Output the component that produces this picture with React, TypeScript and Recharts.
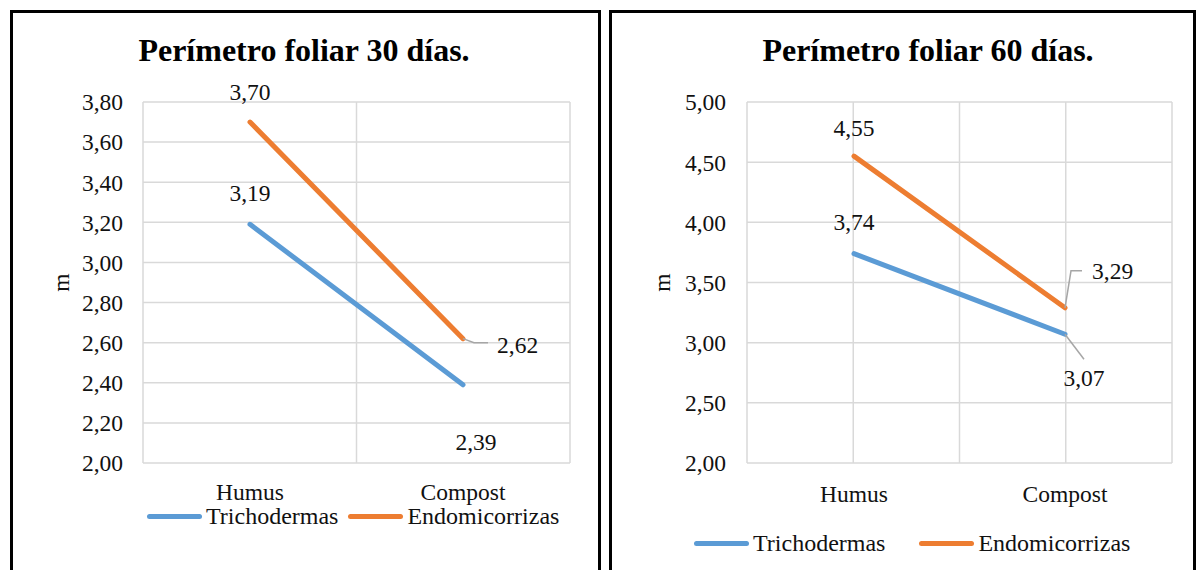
import React from 'react';
import {
  LineChart,
  Line,
  XAxis,
  YAxis,
  CartesianGrid,
  Legend,
  LabelList,
  Label,
} from 'recharts';

const categories = ['Humus', 'Compost'];
const seriesNames = ['Trichodermas', 'Endomicorrizas'];

const tricho30 = [3.19, 2.39];
const endo30 = [3.7, 2.62];
const ticks30 = [2.0, 2.2, 2.4, 2.6, 2.8, 3.0, 3.2, 3.4, 3.6, 3.8];

const tricho60 = [3.74, 3.07];
const endo60 = [4.55, 3.29];
const ticks60 = [2.0, 2.5, 3.0, 3.5, 4.0, 4.5, 5.0];

const BLUE = '#5B9BD5';
const ORANGE = '#ED7D31';
const GRID = '#d9d9d9';
const LEADER = '#a6a6a6';
const FONT = '"Liberation Serif", "Times New Roman", serif';
const TEXT = '#111';

const fmt = (v: number) => v.toFixed(2).replace('.', ',');

type Place = {
  dx: number;
  dy: number;
  anchor: 'middle' | 'start';
  leader?: [number, number][];
};

// label placement relative to each point
const place30: Record<string, Place[]> = {
  tricho: [
    { dx: 0, dy: -31, anchor: 'middle' },
    { dx: 13, dy: 57, anchor: 'middle' },
  ],
  endo: [
    { dx: 0, dy: -30, anchor: 'middle' },
    { dx: 34, dy: 6, anchor: 'start', leader: [[0, 0], [11, 4], [25, 4]] },
  ],
};

const place60: Record<string, Place[]> = {
  tricho: [
    { dx: 0, dy: -32, anchor: 'middle' },
    { dx: 19, dy: 44, anchor: 'middle', leader: [[0, 0], [19, 25]] },
  ],
  endo: [
    { dx: 0, dy: -28, anchor: 'middle' },
    { dx: 27, dy: -37, anchor: 'start', leader: [[0, 0], [6, -37], [17, -37]] },
  ],
};

const makeLabel = (places: Place[]) => (props: any) => {
  const { x, y, value, index } = props;
  const p = places[index];
  if (!p || x == null || y == null) return null;
  return (
    <g>
      {p.leader && (
        <polyline
          points={p.leader.map(([a, b]) => `${x + a},${y + b}`).join(' ')}
          fill="none"
          stroke={LEADER}
          strokeWidth={1.5}
        />
      )}
      <text
        x={x + p.dx}
        y={y + p.dy}
        textAnchor={p.anchor}
        dominantBaseline="central"
        fontSize={23.5}
        fill={TEXT}
        style={{ fontFamily: FONT }}
      >
        {fmt(Number(value))}
      </text>
    </g>
  );
};

const renderLegend = (gap: number) => (props: any) => {
  const items = [...(props.payload || [])].sort(
    (a: any, b: any) => seriesNames.indexOf(a.value) - seriesNames.indexOf(b.value)
  );
  return (
    <div style={{ display: 'flex', alignItems: 'center', height: 20 }}>
      {items.map((e: any, i: number) => (
        <div
          key={e.value}
          style={{ display: 'flex', alignItems: 'center', marginLeft: i ? gap : 0 }}
        >
          <span
            style={{
              display: 'inline-block',
              width: 55,
              height: 5,
              borderRadius: 3,
              background: e.color,
            }}
          />
          <span
            style={{
              marginLeft: 4,
              fontSize: 24,
              lineHeight: '20px',
              color: TEXT,
              fontFamily: FONT,
            }}
          >
            {e.value}
          </span>
        </div>
      ))}
    </div>
  );
};

const yTitle = (dx: number) => (props: any) => {
  const vb = props.viewBox || {};
  const cx = (vb.x || 0) + dx;
  const cy = (vb.y || 0) + (vb.height || 0) / 2;
  return (
    <text
      x={cx}
      y={cy}
      transform={`rotate(-90, ${cx}, ${cy})`}
      textAnchor="middle"
      dominantBaseline="central"
      fontSize={23.5}
      fill={TEXT}
      style={{ fontFamily: FONT }}
    >
      m
    </text>
  );
};

type PanelProps = {
  title: string;
  left: number;
  width: number;
  titleX: number;
  tricho: number[];
  endo: number[];
  ticks: number[];
  yWidth: number;
  tickMargin: number;
  xTickMargin: number;
  rightMargin: number;
  pad: number;
  quarterGrid: boolean;
  places: Record<string, Place[]>;
  legendLeft: number;
  legendTop: number;
  legendGap: number;
  mX: number;
};

const Panel: React.FC<PanelProps> = (p) => {
  const data = categories.map((c, i) => ({ name: c, tricho: p.tricho[i], endo: p.endo[i] }));
  const chartW = p.width - 6;
  const chartH = 560;
  return (
    <div
      style={{
        position: 'absolute',
        left: p.left,
        top: 10,
        width: p.width,
        height: 580,
        border: '3px solid #000',
        boxSizing: 'border-box',
        background: '#fff',
      }}
    >
      <div
        style={{
          position: 'absolute',
          left: p.titleX,
          top: 18,
          transform: 'translateX(-50%)',
          whiteSpace: 'nowrap',
          fontFamily: FONT,
          fontWeight: 'bold',
          fontSize: 32,
          lineHeight: '38px',
          color: '#000',
        }}
      >
        {p.title}
      </div>
      <div style={{ position: 'absolute', left: 0, top: 0, fontFamily: FONT }}>
        <LineChart
          width={chartW}
          height={chartH}
          data={data}
          margin={{ top: 89, right: p.rightMargin, left: 0, bottom: 80 }}
          style={{ fontFamily: FONT }}
        >
          <CartesianGrid
            stroke={GRID}
            strokeWidth={1.5}
            verticalCoordinatesGenerator={({ offset }: any) => {
              const l = offset.left;
              const w = offset.width;
              return p.quarterGrid
                ? [l, l + w / 4, l + w / 2, l + (3 * w) / 4, l + w]
                : [l, l + w / 2, l + w];
            }}
          />
          <XAxis
            dataKey="name"
            height={30}
            axisLine={false}
            tickLine={false}
            tickMargin={p.xTickMargin}
            interval={0}
            padding={{ left: p.pad, right: p.pad }}
            tick={{ fontSize: 23.5, fill: TEXT, fontFamily: FONT }}
          />
          <YAxis
            width={p.yWidth}
            domain={[p.ticks[0], p.ticks[p.ticks.length - 1]]}
            ticks={p.ticks}
            axisLine={false}
            tickLine={false}
            tickMargin={p.tickMargin}
            tickFormatter={fmt}
            tick={{ fontSize: 23.5, fill: TEXT, fontFamily: FONT }}
          >
            <Label content={yTitle(p.mX)} />
          </YAxis>
          <Legend
            layout="horizontal"
            verticalAlign="middle"
            align="center"
            content={renderLegend(p.legendGap)}
            wrapperStyle={{ left: p.legendLeft, top: p.legendTop, width: 'auto' }}
          />
          <Line
            dataKey="tricho"
            name={seriesNames[0]}
            stroke={BLUE}
            strokeWidth={5}
            strokeLinecap="round"
            dot={false}
            activeDot={false}
            isAnimationActive={false}
          >
            <LabelList dataKey="tricho" content={makeLabel(p.places.tricho)} />
          </Line>
          <Line
            dataKey="endo"
            name={seriesNames[1]}
            stroke={ORANGE}
            strokeWidth={5}
            strokeLinecap="round"
            dot={false}
            activeDot={false}
            isAnimationActive={false}
          >
            <LabelList dataKey="endo" content={makeLabel(p.places.endo)} />
          </Line>
        </LineChart>
      </div>
    </div>
  );
};

export default function App() {
  return (
    <div
      style={{
        position: 'absolute',
        left: 0,
        top: 0,
        width: 1200,
        height: 570,
        overflow: 'hidden',
        background: '#fff',
        fontFamily: FONT,
      }}
    >
      <Panel
        title="Perímetro foliar 30 días."
        left={10}
        width={591}
        titleX={291}
        tricho={tricho30}
        endo={endo30}
        ticks={ticks30}
        yWidth={130}
        tickMargin={14}
        xTickMargin={14}
        rightMargin={28}
        pad={107}
        quarterGrid={false}
        places={place30}
        legendLeft={134}
        legendTop={493}
        legendGap={10}
        mX={48}
      />
      <Panel
        title="Perímetro foliar 60 días."
        left={609}
        width={587}
        titleX={316}
        tricho={tricho60}
        endo={endo60}
        ticks={ticks60}
        yWidth={135}
        tickMargin={15}
        xTickMargin={16}
        rightMargin={21}
        pad={107}
        quarterGrid={true}
        places={place60}
        legendLeft={82}
        legendTop={520}
        legendGap={34}
        mX={50}
      />
    </div>
  );
}
